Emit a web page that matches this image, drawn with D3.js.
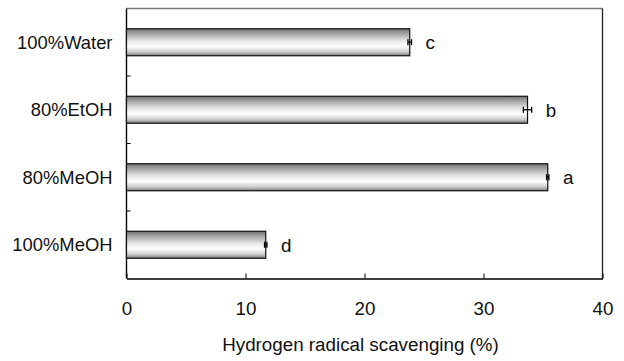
<!DOCTYPE html>
<html>
<head>
<meta charset="utf-8">
<script src="https://cdn.jsdelivr.net/npm/d3@7"></script>
<style>
  body { margin: 0; background: #fff; }
  svg { display: block; font-family: Arial, "Liberation Sans", sans-serif; }
</style>
</head>
<body>
<div id="chart"></div>
<script>
// data, top to bottom
const categories = ['100%Water', '80%EtOH', '80%MeOH', '100%MeOH'];
const values = [23.8, 33.7, 35.4, 11.7];
const errors = [0.15, 0.35, 0.1, 0.1];
const letters = ['c', 'b', 'a', 'd'];
const xTicks = [0, 10, 20, 30, 40];

const width = 624, height = 361;
const margin = {top: 8.5, right: 21.5, bottom: 82.5, left: 126.5};
const fontSize = 18.8;

const svg = d3.select('#chart')
  .append('svg')
  .attr('width', width)
  .attr('height', height);

const x = d3.scaleLinear()
  .domain([0, 40])
  .range([margin.left, width - margin.right]);

const y = d3.scaleBand()
  .domain(categories)
  .range([margin.top, height - margin.bottom])
  .paddingInner(0.6)
  .paddingOuter(0.3);

// cylinder-like shading of the bars
const grad = svg.append('defs').append('linearGradient')
  .attr('id', 'barShade')
  .attr('x1', 0).attr('y1', 0).attr('x2', 0).attr('y2', 1);
[[0, '#707070'], [0.18, '#a4a4a4'], [0.45, '#e6e6e6'], [0.65, '#ffffff'], [0.85, '#cfcfcf'], [1, '#7c7c7c']]
  .forEach(([o, c]) => grad.append('stop').attr('offset', o).attr('stop-color', c));

const x0 = x(0), x1 = x(40);
const yTop = margin.top, yBot = height - margin.bottom;

// frame: grey top, dark right
svg.append('line')
  .attr('x1', x0).attr('x2', x1).attr('y1', yTop).attr('y2', yTop)
  .attr('stroke', '#7a7a7a').attr('stroke-width', 1.3);
svg.append('line')
  .attr('x1', x1).attr('x2', x1).attr('y1', yTop).attr('y2', yBot)
  .attr('stroke', '#222').attr('stroke-width', 1.3);

// x axis with inside ticks
const xAxis = svg.append('g')
  .attr('transform', `translate(0,${yBot})`)
  .call(d3.axisBottom(x).tickValues(xTicks).tickSizeInner(-5).tickSizeOuter(0).tickPadding(0));
xAxis.select('.domain').attr('stroke', '#000').attr('stroke-width', 1.4);
xAxis.selectAll('.tick line').attr('stroke', '#000');
xAxis.selectAll('.tick text')
  .attr('y', 36).attr('dy', 0)
  .attr('font-size', fontSize).attr('fill', '#111');

// left axis
svg.append('line')
  .attr('x1', x0).attr('x2', x0).attr('y1', yTop).attr('y2', yBot)
  .attr('stroke', '#000').attr('stroke-width', 1.4);

// category separators as inside ticks
const step = y.step();
svg.append('g').selectAll('line')
  .data(categories.slice(1))
  .join('line')
  .attr('x1', x0).attr('x2', x0 + 4)
  .attr('y1', d => y(d) - y.paddingInner() * step / 2)
  .attr('y2', d => y(d) - y.paddingInner() * step / 2)
  .attr('stroke', '#000');

// category labels
svg.append('g').selectAll('text')
  .data(categories)
  .join('text')
  .attr('x', x0 - 14)
  .attr('y', d => y(d) + y.bandwidth() / 2)
  .attr('dy', '0.36em')
  .attr('text-anchor', 'end')
  .attr('font-size', 18.4)
  .attr('fill', '#111')
  .text(d => d);

const rows = categories.map((c, i) => ({c, v: values[i], e: errors[i], l: letters[i]}));

// bars
svg.append('g').selectAll('rect')
  .data(rows)
  .join('rect')
  .attr('x', x0)
  .attr('y', d => y(d.c))
  .attr('width', d => x(d.v) - x0)
  .attr('height', y.bandwidth())
  .attr('fill', 'url(#barShade)')
  .attr('stroke', '#111')
  .attr('stroke-width', 1.2);

// error bars
const eb = svg.append('g').attr('stroke', '#000').attr('stroke-width', 1.3);
rows.forEach(d => {
  const cy = y(d.c) + y.bandwidth() / 2;
  eb.append('line').attr('x1', x(d.v - d.e)).attr('x2', x(d.v + d.e)).attr('y1', cy).attr('y2', cy);
  [d.v - d.e, d.v + d.e].forEach(v => {
    eb.append('line').attr('x1', x(v)).attr('x2', x(v)).attr('y1', cy - 3).attr('y2', cy + 3);
  });
});

// significance letters
svg.append('g').selectAll('text')
  .data(rows)
  .join('text')
  .attr('x', d => x(d.v + d.e) + 14)
  .attr('y', d => y(d.c) + y.bandwidth() / 2)
  .attr('dy', '0.36em')
  .attr('font-size', fontSize)
  .attr('fill', '#111')
  .text(d => d.l);

// axis title
svg.append('text')
  .attr('x', (x0 + x1) / 2 - 4)
  .attr('y', 351)
  .attr('text-anchor', 'middle')
  .attr('font-size', fontSize)
  .attr('fill', '#111')
  .text('Hydrogen radical scavenging (%)');
</script>
</body>
</html>
